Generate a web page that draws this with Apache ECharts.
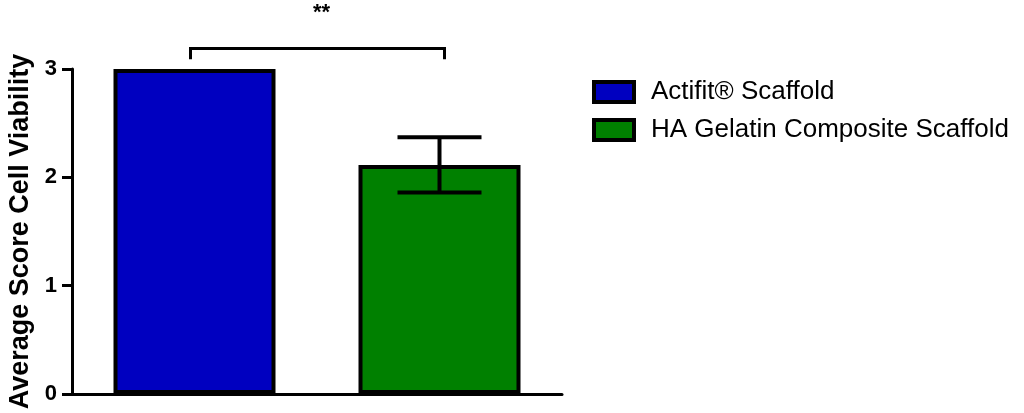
<!DOCTYPE html>
<html>
<head>
<meta charset="utf-8">
<script src="https://cdn.jsdelivr.net/npm/echarts@6/dist/echarts.min.js"></script>
<style>
  html, body { margin: 0; padding: 0; background: #fff; }
  #chart { width: 1024px; height: 413px; }
</style>
</head>
<body>
<div id="chart"></div>
<script>
// groups on the x axis
var groups = ['Actifit® Scaffold', 'HA Gelatin Composite Scaffold'];
// mean score and its error (+/-) for each group
var means = [3.0, 2.115];
var errors = [0, 0.255];
var yTicks = [0, 1, 2, 3];
// significance bracket between the two groups
var sigPair = [0, 1];
var sigLevel = 3.19;
var sigDrop = 0.1;
var sigStarsAt = 3.52;
var sigText = '**';

var colors = ['#0000C0', '#008000'];

var chart = echarts.init(document.getElementById('chart'));

var barSeries = groups.map(function (name, i) {
  var d = groups.map(function (g, j) { return j === i ? means[i] : '-'; });
  return {
    name: name,
    type: 'bar',
    data: d,
    barWidth: 162,
    barGap: '-100%',
    itemStyle: { color: colors[i], borderColor: '#000', borderWidth: 4 },
    emphasis: { disabled: true },
    z: 2
  };
});

var errData = [];
means.forEach(function (m, i) {
  if (errors[i] > 0) errData.push([i, m - errors[i], m + errors[i]]);
});

chart.setOption({
  animation: false,
  textStyle: { fontFamily: 'Liberation Sans, Arial, sans-serif' },
  grid: { left: 72, right: 462, top: 69, bottom: 19 },
  legend: {
    data: groups,
    orient: 'vertical',
    left: 592,
    top: 79,
    padding: 0,
    itemWidth: 40,
    itemHeight: 20,
    itemGap: 12,
    icon: 'rect',
    selectedMode: false,
    itemStyle: { borderColor: '#000', borderWidth: 4 },
    textStyle: { fontSize: 26, color: '#000', padding: [0, 0, 0, 12] }
  },
  xAxis: {
    type: 'category',
    data: groups,
    axisLine: { lineStyle: { color: '#000', width: 3 } },
    axisTick: { show: false },
    axisLabel: { show: false }
  },
  yAxis: {
    type: 'value',
    min: yTicks[0],
    max: yTicks[yTicks.length - 1],
    interval: 1,
    name: 'Average Score Cell Viability',
    nameLocation: 'middle',
    nameGap: 38,
    nameTextStyle: { fontSize: 27, fontWeight: 'bold', color: '#000' },
    axisLine: { show: true, lineStyle: { color: '#000', width: 3 } },
    axisTick: { show: true, length: 10, lineStyle: { color: '#000', width: 3 } },
    axisLabel: { fontSize: 22, fontWeight: 'bold', color: '#000', margin: 15 },
    splitLine: { show: false }
  },
  series: barSeries.concat([
    {
      type: 'custom',
      name: 'error',
      data: errData,
      z: 5,
      renderItem: function (params, api) {
        var x = api.value(0);
        var lo = api.coord([x, api.value(1)]);
        var hi = api.coord([x, api.value(2)]);
        var half = 42;
        var style = { stroke: '#000', lineWidth: 4 };
        return {
          type: 'group',
          children: [
            { type: 'line', shape: { x1: lo[0], y1: lo[1], x2: hi[0], y2: hi[1] }, style: style },
            { type: 'line', shape: { x1: lo[0] - half, y1: lo[1], x2: lo[0] + half, y2: lo[1] }, style: style },
            { type: 'line', shape: { x1: hi[0] - half, y1: hi[1], x2: hi[0] + half, y2: hi[1] }, style: style }
          ]
        };
      }
    },
    {
      type: 'custom',
      name: 'sig',
      clip: false,
      data: [[sigPair[0], sigPair[1], sigLevel, sigLevel - sigDrop, sigStarsAt]],
      z: 5,
      renderItem: function (params, api) {
        var a = api.coord([api.value(0), api.value(2)]);
        var b = api.coord([api.value(1), api.value(2)]);
        var aLow = api.coord([api.value(0), api.value(3)]);
        var bLow = api.coord([api.value(1), api.value(3)]);
        var s = api.coord([api.value(0), api.value(4)]);
        var left = a[0] - 4, right = b[0] + 5;
        return {
          type: 'group',
          children: [
            {
              type: 'polyline',
              shape: { points: [[left, aLow[1]], [left, a[1]], [right, b[1]], [right, bLow[1]]] },
              style: { stroke: '#000', lineWidth: 3, fill: null }
            },
            {
              type: 'text',
              x: (left + right) / 2 + 4,
              y: s[1],
              style: {
                text: sigText,
                fontSize: 22,
                fontWeight: 'bold',
                fill: '#000',
                align: 'center',
                verticalAlign: 'middle',
                fontFamily: 'Liberation Sans, Arial, sans-serif'
              }
            }
          ]
        };
      }
    }
  ])
});
</script>
</body>
</html>
